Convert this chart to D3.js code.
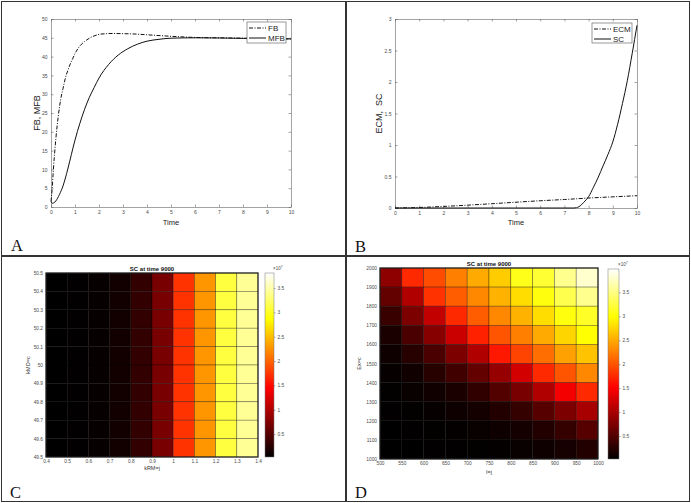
<!DOCTYPE html>
<html>
<head>
<meta charset="utf-8">
<script src="https://cdn.jsdelivr.net/npm/d3@7"></script>
<style>
  body { margin: 0; background: #fff; }
  svg { display: block; font-family: Arial, "Liberation Sans", sans-serif; }
</style>
</head>
<body>
<svg id="fig" width="691" height="503"></svg>
<script>
// --- Data ---

// Panel A: FB and MFB over time
const fbTime  = [0, 0.05, 0.1, 0.2, 0.3, 0.4, 0.5, 0.6, 0.7, 0.8, 0.9, 1.0, 1.2, 1.4, 1.6, 1.8, 2.0, 2.3, 2.6, 3.0, 3.5, 4, 5, 6, 7, 8, 9, 10];
const fbValue = [1.5, 5, 10, 18, 24, 28.5, 31.5, 34.3, 36.3, 38, 39.4, 40.8, 42.8, 44, 44.9, 45.5, 45.9, 46.1, 46.15, 46.1, 46, 45.8, 45.4, 45.1, 45, 44.9, 44.8, 44.7];
const mfbTime  = [0, 0.05, 0.1, 0.2, 0.35, 0.5, 0.7, 0.85, 1.0, 1.2, 1.4, 1.6, 1.8, 2.0, 2.4, 2.8, 3.2, 3.6, 4.0, 4.5, 5, 6, 7, 8, 9, 10];
const mfbValue = [1.5, 1.0, 1.05, 1.6, 3.3, 5.6, 10.1, 14, 17.8, 22.2, 26, 29.2, 31.8, 34.3, 37.9, 40.4, 42.1, 43.3, 44.1, 44.6, 44.9, 45.0, 44.95, 44.85, 44.75, 44.7];

// Panel B: ECM and SC over time
const ecmTime  = [0, 1, 2, 3, 4, 5, 6, 7, 8, 9, 10];
const ecmValue = [0, 0.008, 0.025, 0.045, 0.068, 0.092, 0.115, 0.135, 0.158, 0.177, 0.195];
const scTime  = [0, 7.4, 7.5, 7.6, 7.7, 7.8, 7.9, 8.0, 8.2, 8.4, 8.6, 8.8, 9.0, 9.2, 9.4, 9.6, 9.8, 10];
const scValue = [0, 0, 0.005, 0.02, 0.05, 0.09, 0.13, 0.18, 0.33, 0.49, 0.67, 0.85, 1.05, 1.33, 1.66, 2.02, 2.45, 2.9];

// Panel C: SC at time 9000 (x10^7), kRM columns x kMD rows
const cColStarts = [0.4, 0.5, 0.6, 0.7, 0.8, 0.9, 1.0, 1.1, 1.2, 1.3];
const cRowStarts = [50.4, 50.3, 50.2, 50.1, 50.0, 49.9, 49.8, 49.7, 49.6, 49.5]; // top row first
const cGrid = [
  [0.03, 0.04, 0.07, 0.13, 0.31, 0.7, 1.73, 2.28, 3.1, 3.42],
  [0.03, 0.04, 0.07, 0.13, 0.31, 0.7, 1.73, 2.28, 3.1, 3.42],
  [0.03, 0.04, 0.07, 0.13, 0.31, 0.7, 1.73, 2.28, 3.1, 3.42],
  [0.03, 0.04, 0.07, 0.13, 0.31, 0.7, 1.73, 2.28, 3.1, 3.42],
  [0.03, 0.04, 0.07, 0.13, 0.31, 0.7, 1.73, 2.28, 3.1, 3.42],
  [0.03, 0.04, 0.07, 0.13, 0.31, 0.7, 1.73, 2.28, 3.1, 3.42],
  [0.03, 0.04, 0.07, 0.13, 0.31, 0.7, 1.73, 2.28, 3.1, 3.42],
  [0.03, 0.04, 0.07, 0.13, 0.31, 0.7, 1.73, 2.28, 3.1, 3.42],
  [0.03, 0.04, 0.07, 0.13, 0.31, 0.7, 1.73, 2.28, 3.1, 3.42],
  [0.03, 0.04, 0.07, 0.13, 0.31, 0.7, 1.73, 2.28, 3.1, 3.42]
];
const cXTicks = [0.4, 0.5, 0.6, 0.7, 0.8, 0.9, 1.0, 1.1, 1.2, 1.3, 1.4];
const cYTicks = [49.5, 49.6, 49.7, 49.8, 49.9, 50.0, 50.1, 50.2, 50.3, 50.4, 50.5];

// Panel D: SC at time 9000 (x10^7), I columns x Ex rows
const dColStarts = [500, 550, 600, 650, 700, 750, 800, 850, 900, 950];
const dRowStarts = [1900, 1800, 1700, 1600, 1500, 1400, 1300, 1200, 1100, 1000]; // top row first
const dGrid = [
  [0.85, 1.75, 1.95, 2.25, 2.5, 2.7, 3.1, 3.2, 3.55, 3.8],
  [0.6, 1.05, 1.8, 2.05, 2.3, 2.55, 2.8, 3.05, 3.3, 3.55],
  [0.35, 0.75, 1.15, 1.75, 2.05, 2.3, 2.55, 2.8, 3.05, 3.15],
  [0.18, 0.45, 0.8, 1.2, 1.7, 2.0, 2.25, 2.5, 2.75, 3.0],
  [0.1, 0.25, 0.45, 0.75, 1.05, 1.65, 1.9, 2.15, 2.45, 2.65],
  [0.06, 0.12, 0.25, 0.4, 0.6, 0.9, 1.25, 1.75, 2.0, 2.3],
  [0.04, 0.07, 0.12, 0.18, 0.3, 0.5, 0.72, 1.05, 1.45, 1.75],
  [0.03, 0.04, 0.06, 0.1, 0.14, 0.22, 0.33, 0.52, 0.75, 1.0],
  [0.02, 0.03, 0.04, 0.05, 0.07, 0.1, 0.14, 0.22, 0.33, 0.52],
  [0.02, 0.02, 0.03, 0.03, 0.04, 0.05, 0.07, 0.1, 0.15, 0.22]
];
const dXTicks = [500, 550, 600, 650, 700, 750, 800, 850, 900, 950, 1000];
const dYTicks = [1000, 1100, 1200, 1300, 1400, 1500, 1600, 1700, 1800, 1900, 2000];

const colorbarTicks = [0.5, 1, 1.5, 2, 2.5, 3, 3.5];

// --- helpers ---
const svg = d3.select("#fig");
const TICK_COLOR = "#4a4a4a";
const DASHDOT = "4,1.5,1,1.5";

// MATLAB "hot" colormap
function hot(t) {
  t = Math.max(0, Math.min(1, t));
  const r = Math.min(1, t / 0.375);
  const g = Math.max(0, Math.min(1, (t - 0.375) / 0.375));
  const b = Math.max(0, Math.min(1, (t - 0.75) / 0.25));
  return d3.rgb(r * 255, g * 255, b * 255).formatHex();
}

function styleAxis(sel, fontSize) {
  sel.select(".domain").attr("stroke", "#666").attr("stroke-width", 0.6);
  sel.selectAll(".tick line").attr("stroke", "#666").attr("stroke-width", 0.6);
  sel.selectAll(".tick text").attr("fill", TICK_COLOR).style("font-size", fontSize + "px");
}

// Panel frames
[[1, 1, 344, 254], [346, 1, 343, 254], [1, 256, 344, 245], [346, 256, 343, 245]].forEach(f => {
  svg.append("rect")
    .attr("x", f[0] + 0.5).attr("y", f[1] + 0.5)
    .attr("width", f[2]).attr("height", f[3])
    .attr("fill", "none").attr("stroke", "#333").attr("stroke-width", 1);
});

// --- Line panels ---
function linePanel(o) {
  const g = svg.append("g");
  const x = d3.scaleLinear().domain([0, 10]).range([o.left, o.right]);
  const y = d3.scaleLinear().domain(o.yDomain).range([o.bottom, o.top]);

  // box + ticks on all sides (MATLAB style, inward)
  g.append("g").attr("transform", `translate(0,${o.bottom})`)
    .call(d3.axisBottom(x).tickValues(d3.range(0, 11)).tickSizeInner(-2.5).tickSizeOuter(0).tickPadding(3))
    .call(s => styleAxis(s, 5));
  g.append("g").attr("transform", `translate(0,${o.top})`)
    .call(d3.axisTop(x).tickValues(d3.range(0, 11)).tickSizeInner(-2.5).tickSizeOuter(0).tickFormat(""))
    .call(s => styleAxis(s, 5));
  g.append("g").attr("transform", `translate(${o.left},0)`)
    .call(d3.axisLeft(y).tickValues(o.yTicks).tickSizeInner(-2.5).tickSizeOuter(0).tickPadding(3.5).tickFormat(d3.format("~g")))
    .call(s => styleAxis(s, 5));
  g.append("g").attr("transform", `translate(${o.right},0)`)
    .call(d3.axisRight(y).tickValues(o.yTicks).tickSizeInner(-2.5).tickSizeOuter(0).tickFormat(""))
    .call(s => styleAxis(s, 5));

  const line = d3.line().x(d => x(d[0])).y(d => y(d[1])).curve(d3.curveMonotoneX);
  o.series.forEach(s => {
    g.append("path")
      .datum(d3.zip(s.t, s.v))
      .attr("d", line)
      .attr("fill", "none")
      .attr("stroke", "#111")
      .attr("stroke-width", 1)
      .attr("stroke-dasharray", s.dash ? DASHDOT : null);
  });

  // legend
  const lg = g.append("g");
  lg.append("rect")
    .attr("x", o.legend.x).attr("y", o.legend.y)
    .attr("width", o.legend.w).attr("height", o.legend.h)
    .attr("fill", "#fff").attr("stroke", "#555").attr("stroke-width", 0.6);
  o.series.forEach((s, i) => {
    const ly = o.legend.y + 6 + i * 10;
    lg.append("line")
      .attr("x1", o.legend.x + 2).attr("x2", o.legend.x + 19)
      .attr("y1", ly).attr("y2", ly)
      .attr("stroke", "#111").attr("stroke-width", 1)
      .attr("stroke-dasharray", s.dash ? DASHDOT : null);
    lg.append("text")
      .attr("x", o.legend.x + 21).attr("y", ly + 2.8)
      .attr("fill", "#222").style("font-size", "8px")
      .text(s.name);
  });

  // axis labels
  g.append("text")
    .attr("x", (o.left + o.right) / 2).attr("y", 225)
    .attr("text-anchor", "middle").attr("fill", "#222")
    .style("font-size", "7.5px").text("Time");
  g.append("text")
    .attr("transform", `translate(${o.yLabelX},${(o.top + o.bottom) / 2}) rotate(-90)`)
    .attr("text-anchor", "middle").attr("fill", "#222")
    .style("font-size", "9px").style("white-space", "pre")
    .text(o.yLabel);
}

linePanel({
  left: 51, right: 291, top: 19, bottom: 207,
  yDomain: [0, 50], yTicks: d3.range(0, 51, 5),
  yLabel: "FB, MFB", yLabelX: 40,
  legend: { x: 247, y: 22, w: 39, h: 21 },
  series: [
    { name: "FB", t: fbTime, v: fbValue, dash: true },
    { name: "MFB", t: mfbTime, v: mfbValue, dash: false }
  ]
});

linePanel({
  left: 395, right: 637, top: 19, bottom: 208,
  yDomain: [0, 3], yTicks: [0, 0.5, 1, 1.5, 2, 2.5, 3],
  yLabel: "ECM,  SC", yLabelX: 382,
  legend: { x: 592, y: 23, w: 40, h: 20 },
  series: [
    { name: "ECM", t: ecmTime, v: ecmValue, dash: true },
    { name: "SC", t: scTime, v: scValue, dash: false }
  ]
});

// --- Heatmap panels ---
const defs = svg.append("defs");

function heatPanel(o) {
  const g = svg.append("g");
  const x = d3.scaleLinear().domain(o.xDomain).range([o.left, o.right]);
  const y = d3.scaleLinear().domain(o.yDomain).range([o.bottom, o.top]);
  const cNorm = d3.scaleLinear().domain([o.cMin, o.cMax]).range([0, 1]).clamp(true);

  const cells = [];
  o.grid.forEach((row, i) => row.forEach((v, j) => {
    cells.push({ x0: o.colStarts[j], y0: o.rowStarts[i], v: v });
  }));

  g.selectAll("rect.cell").data(cells).join("rect")
    .attr("class", "cell")
    .attr("x", d => x(d.x0))
    .attr("y", d => y(d.y0 + o.dy))
    .attr("width", d => x(d.x0 + o.dx) - x(d.x0))
    .attr("height", d => y(d.y0) - y(d.y0 + o.dy))
    .attr("fill", d => hot(cNorm(d.v)))
    .attr("stroke", "#000").attr("stroke-opacity", 0.5).attr("stroke-width", 0.6);

  g.append("rect")
    .attr("x", o.left).attr("y", o.top)
    .attr("width", o.right - o.left).attr("height", o.bottom - o.top)
    .attr("fill", "none").attr("stroke", "#222").attr("stroke-width", 1.2);

  g.append("g").attr("transform", `translate(0,${o.bottom})`)
    .call(d3.axisBottom(x).tickValues(o.xTicks).tickSize(0).tickPadding(3).tickFormat(d3.format("~g")))
    .call(s => { styleAxis(s, 4.8); s.select(".domain").remove(); });
  g.append("g").attr("transform", `translate(${o.left},0)`)
    .call(d3.axisLeft(y).tickValues(o.yTicks).tickSize(0).tickPadding(3).tickFormat(d3.format("~g")))
    .call(s => { styleAxis(s, 4.8); s.select(".domain").remove(); });

  // title + labels
  g.append("text")
    .attr("x", (o.left + o.right) / 2).attr("y", o.top - 2)
    .attr("text-anchor", "middle").attr("fill", "#111")
    .style("font-size", "6px").style("font-weight", "bold")
    .text("SC at time 9000");
  g.append("text")
    .attr("x", (o.left + o.right) / 2).attr("y", o.xLabelY)
    .attr("text-anchor", "middle").attr("fill", "#333")
    .style("font-size", "5.5px").text(o.xLabel);
  g.append("text")
    .attr("transform", `translate(${o.yLabelX},${(o.top + o.bottom) / 2}) rotate(-90)`)
    .attr("text-anchor", "middle").attr("fill", "#333")
    .style("font-size", "5.5px").text(o.yLabel);

  // colorbar
  const grad = defs.append("linearGradient")
    .attr("id", o.id + "-grad")
    .attr("x1", 0).attr("y1", 1).attr("x2", 0).attr("y2", 0);
  d3.range(0, 1.0001, 0.025).forEach(t => {
    grad.append("stop").attr("offset", t).attr("stop-color", hot(t));
  });
  const cb = o.cb;
  g.append("rect")
    .attr("x", cb.x).attr("y", cb.top)
    .attr("width", cb.w).attr("height", cb.bottom - cb.top)
    .attr("fill", `url(#${o.id}-grad)`)
    .attr("stroke", "#777").attr("stroke-width", 0.5);
  const cbScale = d3.scaleLinear().domain([o.cMin, o.cMax]).range([cb.bottom, cb.top]);
  g.append("g").attr("transform", `translate(${cb.x + cb.w},0)`)
    .call(d3.axisRight(cbScale).tickValues(colorbarTicks).tickSizeInner(1.5).tickSizeOuter(0).tickPadding(2).tickFormat(d3.format("~g")))
    .call(s => { styleAxis(s, 4.8); s.select(".domain").remove(); });
  const ex = g.append("text")
    .attr("x", cb.x + cb.w - 1).attr("y", cb.top - 3)
    .attr("fill", TICK_COLOR).style("font-size", "4.5px");
  ex.append("tspan").text("\u00d710");
  ex.append("tspan").attr("dy", -2).style("font-size", "3.5px").text("7");
}

heatPanel({
  id: "c",
  left: 46, right: 258, top: 273, bottom: 457,
  xDomain: [0.4, 1.4], yDomain: [49.5, 50.5], dx: 0.1, dy: 0.1,
  colStarts: cColStarts, rowStarts: cRowStarts, grid: cGrid,
  xTicks: cXTicks, yTicks: cYTicks,
  cMin: 0.03, cMax: 3.81,
  xLabel: "kRM=j", xLabelY: 470, yLabel: "kMD=c", yLabelX: 30,
  cb: { x: 265, w: 9, top: 273, bottom: 457 }
});

heatPanel({
  id: "d",
  left: 380, right: 598, top: 268, bottom: 459,
  xDomain: [500, 1000], yDomain: [1000, 2000], dx: 50, dy: 100,
  colStarts: dColStarts, rowStarts: dRowStarts, grid: dGrid,
  xTicks: dXTicks, yTicks: dYTicks,
  cMin: 0.02, cMax: 3.99,
  xLabel: "I=j", xLabelY: 474, yLabel: "Ex=c", yLabelX: 361,
  cb: { x: 608, w: 11, top: 269, bottom: 459 }
});

// Panel letters
[["A", 11, 251], ["B", 355, 252], ["C", 10, 498], ["D", 355, 498]].forEach(p => {
  svg.append("text")
    .attr("x", p[1]).attr("y", p[2])
    .attr("fill", "#111")
    .style("font-family", "'Liberation Serif', 'Times New Roman', serif")
    .style("font-size", "16.5px")
    .text(p[0]);
});
</script>
</body>
</html>
